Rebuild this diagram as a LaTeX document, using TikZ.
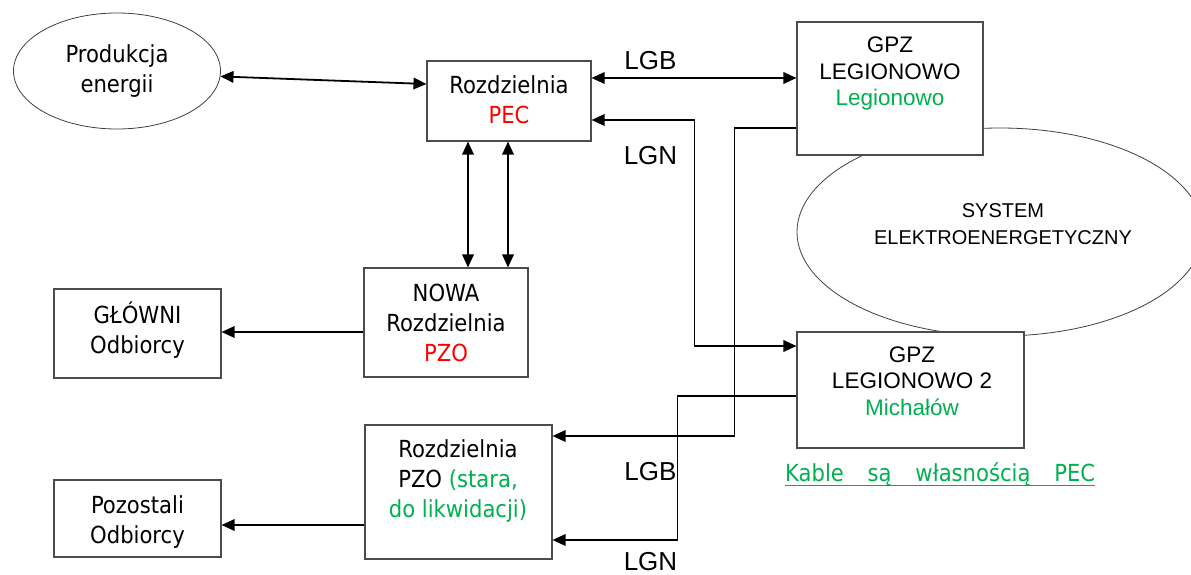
\documentclass[tikz,border=0pt]{standalone}
\usepackage{fontspec}
\setmainfont{Liberation Sans}
\newfontfamily\tah{DejaVu Sans Condensed}
\usetikzlibrary{arrows.meta,shapes.geometric}
\definecolor{pgreen}{RGB}{0,176,80}
\definecolor{pred}{RGB}{255,0,0}
\begin{document}
\begin{tikzpicture}[x=1pt,y=-1pt,
  >={Triangle[length=13pt,width=11.5pt]},
  box/.style={draw=black!70, line width=1.1pt, fill=white, rectangle, inner sep=0pt},
  oval/.style={draw=black!75, line width=0.8pt, fill=white, ellipse, inner sep=0pt},
  conn/.style={line width=1.8pt, black},
  tahf/.style={font=\tah\fontsize{23.5pt}{30pt}\selectfont, align=center, inner sep=0pt},
  arf/.style={font=\fontsize{22.5pt}{26.5pt}\selectfont, align=center, inner sep=0pt},
  sysf/.style={font=\fontsize{20pt}{27pt}\selectfont, align=center, inner sep=0pt},
  lbl/.style={font=\fontsize{26pt}{30pt}\selectfont, inner sep=0pt}]
\useasboundingbox (0,0) rectangle (1191,575);
\clip (0,0) rectangle (1191,575);
% shapes
\node[oval, minimum width=406pt, minimum height=208pt] (sys) at (1000,232) {};
\node[oval, minimum width=207pt, minimum height=116pt] (prod) at (117,71) {};
\node[box, minimum width=164pt, minimum height=80pt] (pec) at (509,101) {};
\node[box, minimum width=186pt, minimum height=133pt] (gpz1) at (890,88.5) {};
\node[box, minimum width=164pt, minimum height=109pt] (nowa) at (446,322.5) {};
\node[box, minimum width=167pt, minimum height=89pt] (glowni) at (137.5,333.5) {};
\node[box, minimum width=227pt, minimum height=116pt] (gpz2) at (910.5,390) {};
\node[box, minimum width=187pt, minimum height=134pt] (pzo) at (458.5,492) {};
\node[box, minimum width=167pt, minimum height=77pt] (pozost) at (137.5,518.5) {};
% texts
\node[tahf] (tprod) at (117,71.5) {Produkcja\\energii};
\node[tahf] (tpec) at (509,100) {Rozdzielnia\\\textcolor{pred}{PEC}};
\node[arf] (tgpz1) at (890,73.5) {GPZ\\LEGIONOWO\\\textcolor{pgreen}{Legionowo}};
\node[sysf] (tsys) at (1003,224) {SYSTEM\\ELEKTROENERGETYCZNY};
\node[tahf] (tnowa) at (446,322.5) {NOWA\\Rozdzielnia\\\textcolor{pred}{PZO}};
\node[tahf] (tglowni) at (137.5,330) {GŁÓWNI\\Odbiorcy};
\node[arf] (tgpz2) at (912,381) {GPZ\\LEGIONOWO 2\\\textcolor{pgreen}{Michałów}};
\node[tahf] (tpzo) at (458,481.5) {Rozdzielnia\\PZO \textcolor{pgreen}{(stara,}\\\textcolor{pgreen}{do likwidacji)}};
\node[tahf] (tpozost) at (137.5,522.5) {Pozostali\\Odbiorcy};
\node[tahf, text=pgreen, anchor=base west] (kable) at (785,481)
  {\makebox[310pt][s]{Kable\hfill są\hfill własnością\hfill PEC}};
\draw[pgreen, line width=1pt] ([yshift=-4pt]kable.base west) -- ([yshift=-4pt]kable.base east);
\node[lbl] (lgb1) at (650.5,61) {LGB};
\node[lbl] (lgn1) at (650.5,155.5) {LGN};
\node[lbl] (lgb2) at (650.5,472) {LGB};
\node[lbl] (lgn2) at (650.5,562) {LGN};
% connectors
\draw[conn,<->] (prod.-3.3) -- ([yshift=17pt]pec.west);
\draw[conn,<->] ([yshift=23pt]pec.east) -- ([yshift=23pt]pec.east -| gpz1.west);
\draw[conn,<->] ([yshift=-19pt]pec.east) -- ++(103,0) |- ([yshift=44pt]gpz2.west);
\draw[conn,<->] ([xshift=-41pt]pec.south) -- ([xshift=-41pt]pec.south |- nowa.north);
\draw[conn,<->] ([xshift=-1pt]pec.south) -- ([xshift=-1pt]pec.south |- nowa.north);
\draw[conn,->] ([yshift=-39.5pt]gpz1.west) -- ++(-62,0) |- ([yshift=56pt]pzo.east);
\draw[conn,->] ([yshift=-6pt]gpz2.west) -- ++(-119,0) |- ([yshift=-48pt]pzo.east);
\draw[conn,->] ([yshift=-9.5pt]nowa.west) -- ([yshift=-9.5pt]nowa.west -| glowni.east);
\draw[conn,->] ([yshift=-33pt]pzo.west) -- ([yshift=-33pt]pzo.west -| pozost.east);
\end{tikzpicture}
\end{document}
